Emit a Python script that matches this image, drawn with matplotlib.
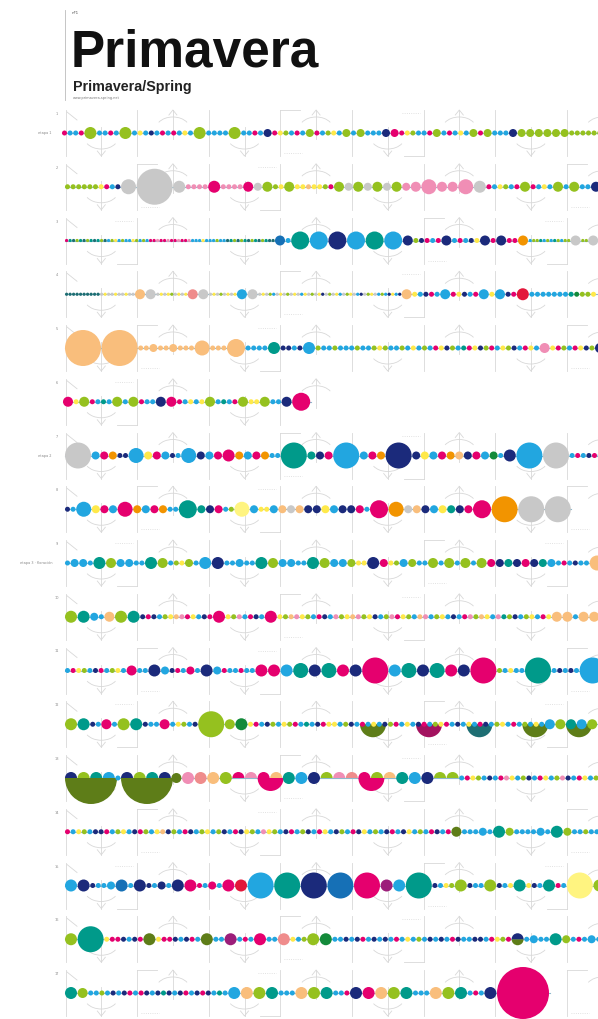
import re
import matplotlib
matplotlib.use('Agg')
import matplotlib.pyplot as plt
from matplotlib.patches import Circle, Wedge, Arc

# colours of the dots
COLORS = {
    'g': '#95C11F', 'b': '#22A6E0', 'n': '#1B2A7B', 'm': '#E5006E',
    't': '#009A8A', 'e': '#C8C8C8', 'o': '#F9BE7C', 'p': '#F08EB5',
    'y': '#FFE94A', 'r': '#E3173B', 'a': '#F29400', 'v': '#5E7D18',
    'd': '#138A3A', 's': '#EF8C8C', 'k': '#1E6E73', 'q': '#A3125F',
    'u': '#9C1E7A', 'w': '#FFF480', 'c': '#1670B6',
}
# size class -> diameter (px)
DIAM = {'0': 3.2, '1': 5, '2': 6.5, '3': 8, '4': 10, '5': 12, '6': 15,
        '7': 18, '8': 26, '9': 36, 'X': 52}

# one string per row: "cN" circle, "cN^" upper half, "cN_" lower half,
# "*" = drawn behind without moving on, plain letters = run of small dots,
# ".letters" = run of tiny dots
rows = [
    "mbbm g5 bbmb g5 bybnbmbmbyb g5 bbbb g5 bbmb n3 mygbmb g3 mbgyb g3 b g3 bbb n3 m3 mygbbm g3 bmbyb g3 m g3 bbb n3 g3 g3 g3 g3 g3 g3 ggggggg",
    "gggggg ymbn e6 e9 e5 pppp m5 pppp m4 e3 g4 gy g4 yyoyygm g4 e3 g4 e3 g4 e3 g4 p3 p4 p6 p4 p4 p6 e5 mbygbm g4 mbyb g4 b g4 bb n4",
    ".mtkgtkgtktgkbgybgbbygbgbmmpmmpmmpmmpbbbybbbgbbktgkgtkgtkgtkk c4 b t7 b7 n7 b7 t7 b7 n4 gnmbm n4 bmbny n4 m n4 mm a4 .bggtbgbtgbgg e4 .gg e4",
    ".kkkkkkkkkk .eyeeyeeyee o4 e4 .eyeygeyey s4 e4 .eyegeyey b4 e4 .eyegbeyegeyebyegeynegeybegyebnegyebgbnybn o4 ybnmb b4 mynbm b4 y b4 nm r5 bbbbbbb tdggy",
    "o9 o9 oo o3 oo o3 ooo o6 ooo o7 bbbb t5 nnbn b5 gbbgbbbgbbgygbbgbybgbmyngbtmyngmbygnbmyb p4 ymgbmyng n4",
    "m4 y g4 mbtb g4 b g4 mbb n4 m4 mbyby g4 btbm g4 yy g4 bb n4 m7",
    "e8 b3 m3 a3 nn b6 y3 m3 b3 nb b6 n3 b3 m3 m5 a3 b3 m3 a3 bb t8 t3 n3 m3 b8 b3 m3 a3 n8 n3 y3 b3 m3 a3 o3 n3 m3 b3 d3 b n5 b8 e8 bmbnmb",
    "nb b6 y3 m3 b3 m6 a3 b3 m3 a3 bb t7 t3 n3 m3 bg w6 b3 yy b3 o3 e3 o3 n3 n3 y3 b3 n3 n3 m3 b m7 a6 e3 o3 n3 b3 y3 t3 n3 m3 m7 a8 e8 e8",
    "b b3 b3 b t5 g4 b3 b3 bb t5 g4 bgy g3 b b5 n5 bb b3 bb t5 g4 b3 b3 bb t5 g4 b3 b3 g3 yy n5 m3 yg b3 g3 bb g4 b g4 b g4 b g4 m3 n3 t3 n3 m3 n3 t3 b3 bmbnbb o6",
    "g5 t5 b3 b o4 g5 t5 nmnbgyopmybnm m5 ygpbmnb m5 ygopygbmnbpgyopgynbgpmygbopbgybnbmpgoybptgnbgybmy o4 o4 b o4 o4",
    "bmygbnmbgyb m4 bb n5 b3 nm b m3 b n5 b3 mbbmbb m5 m5 b5 t6 n5 t6 m5 n5 m8 b5 t6 n5 t6 m5 n5 m8 gbybb t8 bnbnb b8",
    "g5 t5 nb m4 b g5 t5 nbb m4 bygbn g8 g4 d5 ymbngbygmbtbnmyybgnb v8_* mbybngmbyb q8_* nmbgymbnb k8_* ybmnbgybmb v8_* gbyb b4 g4 v8_* t4 b4 g4",
    "vX_* n5^ g5^ t5^ b5^ b vX_* n5^ g5^ t5^ n5^ v4 p5 s5 o5 g5 m5^ p5^ m8_* m5^ o5^ t5 b5 n5 g5^ p5^ s5^ m8_* m5^ g5^ o5^ t5 b5 n5 g5^ g5^ bmygbnbmpybgnbmybgpnbmybg",
    "mbygbnnmbgybnmgbyongbmnbgybgnbmnygbpygbnmbgnbmybngbmnybgbnmbnybgbmnbm v4 bbb b3 b t5 g3 bbbb b3 b t5 g3 bbgbb",
    "b5 n5 nb b b3 c5 b n5 nb n3 b n5 m5 mb m3 b m5 r5 b8 t8 n8 c8 m8 u5 b5 t8 nbyg g5 nbb g5 nby t5 ynb t5 mb w8 g5",
    "g5 t8 ymmnbnm v5 ymmnbnmb v5 bb u5 bmb m5 bb s5 ybg g5 d5 bbnbnmbnbnbmbybgbnbnbmnbbnnbmygm v5_* n5^ b b3 bb t5 g3 bmb b3 b",
    "t5 g4 bbgbnbnmbmnbntnbnmbnmnbtb b5 o5 g5 t5 bbb o5 g5 t5 bbm n5 m5 o5 g5 t5 bbb o5 g5 t5 bmb n5 mX",
]
row_starts = [62, 65, 65, 65, 65, 63, 65, 65, 65, 65, 65, 65, 65, 65, 65, 65, 65]
row_labels = ["etapa 1", "", "", "", "", "", "etapa 2", "", "etapa 3 · floración",
              "", "", "", "", "", "", "", ""]

W, H = 598, 1019
fig = plt.figure(figsize=(W / 100, H / 100), dpi=100)
ax = fig.add_axes([0, 0, 1, 1])
ax.set_xlim(0, W)
ax.set_ylim(H, 0)
ax.axis('off')

GREY = '#d8d8d8'


def parse(row):
    for tok in row.split():
        m = re.fullmatch(r'([a-z])([0-9X])([_^]?)(\*?)', tok)
        if m:
            yield m.group(1), DIAM[m.group(2)], m.group(3), bool(m.group(4))
        else:
            tiny = tok.startswith('.')
            for c in tok.lstrip('.'):
                yield c, DIAM['0' if tiny else '1'], '', False


def decor(i, y, x_end):
    ax.plot([67, 77], [y - 21, y - 13], color=GREY, lw=0.6, zorder=0)
    for k in range(16):
        x = 65.5 + 35.8 * k
        if x > x_end + 6:
            break
        kind = k % 4
        if kind == 0:
            ax.plot([x, x], [y - 23, y + 23], color=GREY, lw=0.6, zorder=0)
        elif kind == 1:
            ax.plot([x, x], [y - 6, y + 23], color=GREY, lw=0.6, zorder=0)
            ax.plot([x - 4, x, x + 4], [y + 18, y + 23, y + 18], color=GREY, lw=0.6, zorder=0)
            ax.add_patch(Arc((x, y + 4), 34, 24, theta1=25, theta2=155, color=GREY, lw=0.6, zorder=0))
        elif kind == 2:
            ax.plot([x, x], [y - 23, y + 23], color=GREY, lw=0.6, zorder=0)
            if (i + k) % 3 == 0:
                ax.plot([x, x + 20], [y - 23, y - 23], color=GREY, lw=0.6, zorder=0)
                ax.plot([x + 4, x + 22], [y + 20, y + 20], color=GREY, lw=0.6, ls=':', zorder=0)
            elif (i + k) % 3 == 1:
                ax.plot([x - 20, x], [y + 23, y + 23], color=GREY, lw=0.6, zorder=0)
                ax.plot([x - 22, x - 4], [y - 20, y - 20], color=GREY, lw=0.6, ls=':', zorder=0)
        else:
            ax.plot([x, x], [y - 23, y + 6], color=GREY, lw=0.6, zorder=0)
            ax.plot([x - 4, x, x + 4], [y - 18, y - 23, y - 18], color=GREY, lw=0.6, zorder=0)
            ax.add_patch(Arc((x, y - 4), 34, 24, theta1=205, theta2=335, color=GREY, lw=0.6, zorder=0))


for i, row in enumerate(rows):
    y = 133 + 53.75 * i
    x = row_starts[i]
    for c, d, half, hold in parse(row):
        cx = x + d / 2
        if half == '^':
            ax.add_patch(Wedge((cx, y), d / 2, 180, 360, fc=COLORS[c], ec='none', zorder=3))
        elif half == '_':
            ax.add_patch(Wedge((cx, y), d / 2, 0, 180, fc=COLORS[c], ec='none', zorder=2))
        else:
            ax.add_patch(Circle((cx, y), d / 2, fc=COLORS[c], ec='none', zorder=3))
        if not hold:
            x += d + (0.3 if d < 4 else 0.6)
    x_end = min(x, W)
    ax.plot([row_starts[i], x_end], [y, y], color='#8fb8cc', lw=0.8, zorder=1)
    decor(i, y, x_end if i == 5 else W)
    ax.text(57, y - 19, str(i + 1), fontsize=2.5, color='#888888', ha='center', va='center')
    if row_labels[i]:
        ax.text(52, y, row_labels[i], fontsize=2.5, color='#888888', ha='right', va='center')

# header
ax.plot([65, 65], [10, 100], color='#bbbbbb', lw=0.6)
ax.text(72, 13, "nº1", fontsize=3, color='#555555', va='center')
ax.text(71, 66, "Primavera", fontsize=37, fontweight='bold', family='Liberation Sans',
        color='#111111', va='baseline')
ax.text(73, 91, "Primavera/Spring", fontsize=10.3, fontweight='bold', family='Liberation Sans',
        color='#222222', va='baseline')
ax.text(73, 98, "www.primavera-spring.net", fontsize=2.5, color='#777777', va='center')

fig.savefig('out.png', dpi=100)
